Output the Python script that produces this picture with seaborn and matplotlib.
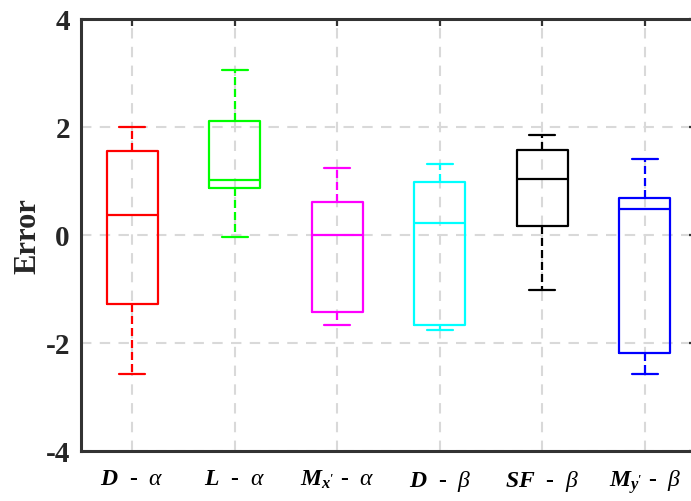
import numpy as np
import pandas as pd
import matplotlib
matplotlib.use("Agg")
import matplotlib.pyplot as plt
import seaborn as sns

# ---- data ----
groups = ["D-alpha", "L-alpha", "Mx-alpha", "D-beta", "SF-beta", "My-beta"]
tick_labels = [r"$\mathbf{D}$  -  $\alpha$",
               r"$\mathbf{L}$  -  $\alpha$",
               r"$\mathbf{M}_{\mathbf{x}\mathbf{'}}$ -  $\alpha$",
               r"$\mathbf{D}$  -  $\beta$",
               r"$\mathbf{SF}$  -  $\beta$",
               r"$\mathbf{M}_{\mathbf{y}\mathbf{'}}$ -  $\beta$"]
whisker_low = [-2.57, -0.03, -1.67, -1.76, -1.01, -2.58]
q1 = [-1.28, 0.87, -1.42, -1.67, 0.17, -2.19]
median = [0.37, 1.02, 0.00, 0.22, 1.03, 0.48]
q3 = [1.55, 2.12, 0.62, 0.99, 1.58, 0.68]
whisker_high = [2.00, 3.05, 1.25, 1.31, 1.85, 1.41]
colors = ["#ff0000", "#00ff00", "#ff00ff", "#00ffff", "#000000", "#0000ff"]
y_ticks = [-4, -2, 0, 2, 4]
y_tick_labels = ["-4", "-2", "0", "2", "4"]

# five-number summaries -> long table (5 points reproduce the stats exactly)
rows = []
for g, a, b, c, d, e in zip(groups, whisker_low, q1, median, q3, whisker_high):
    for v in (a, b, c, d, e):
        rows.append({"group": g, "value": v})
df = pd.DataFrame(rows)

sns.set_style("white")
plt.rcParams["font.family"] = ["Liberation Serif", "DejaVu Serif"]
plt.rcParams["mathtext.fontset"] = "custom"
plt.rcParams["mathtext.bf"] = "Liberation Serif:bold:italic"
plt.rcParams["mathtext.it"] = "Liberation Serif:italic"
plt.rcParams["mathtext.rm"] = "Liberation Serif:bold"
plt.rcParams["axes.unicode_minus"] = False

W, H = 691, 502
fig = plt.figure(figsize=(W / 100, H / 100), dpi=100)
left, right, top, bottom = 81, 696, 20, 452
ax = fig.add_axes([left / W, 1 - bottom / H, (right - left) / W, (bottom - top) / H])

sns.boxplot(data=df, x="group", y="value", hue="group", order=groups,
            hue_order=groups, palette=colors, fill=False, width=0.5,
            whis=np.inf, showfliers=False, linewidth=1.6, legend=False,
            whiskerprops=dict(linestyle=(0, (3.6, 1.8))), ax=ax)

ax.set_xlim(-0.5, 5.5)
ax.set_ylim(-4, 4)
ax.set_yticks(y_ticks)
ax.set_yticklabels(y_tick_labels, fontsize=21, fontweight="bold", color="#262626")
ax.set_xticks(range(len(groups)))
ax.set_xticklabels(tick_labels, fontsize=17, fontweight="bold", color="#000000")
ax.set_xlabel("")
ax.set_ylabel("Error", fontsize=22, fontweight="bold", color="#262626", labelpad=2)

ax.set_axisbelow(True)
ax.grid(True, linestyle=(0, (5, 4)), color="#d9d9d9", linewidth=1.5)
for s in ax.spines.values():
    s.set_color("#333333")
    s.set_linewidth(2.2)
ax.tick_params(axis="both", direction="in", length=5, width=1.6,
               color="#333333", top=True, right=True)
ax.tick_params(axis="x", pad=12)
ax.tick_params(axis="y", pad=8)

fig.savefig("out.png", dpi=100)
